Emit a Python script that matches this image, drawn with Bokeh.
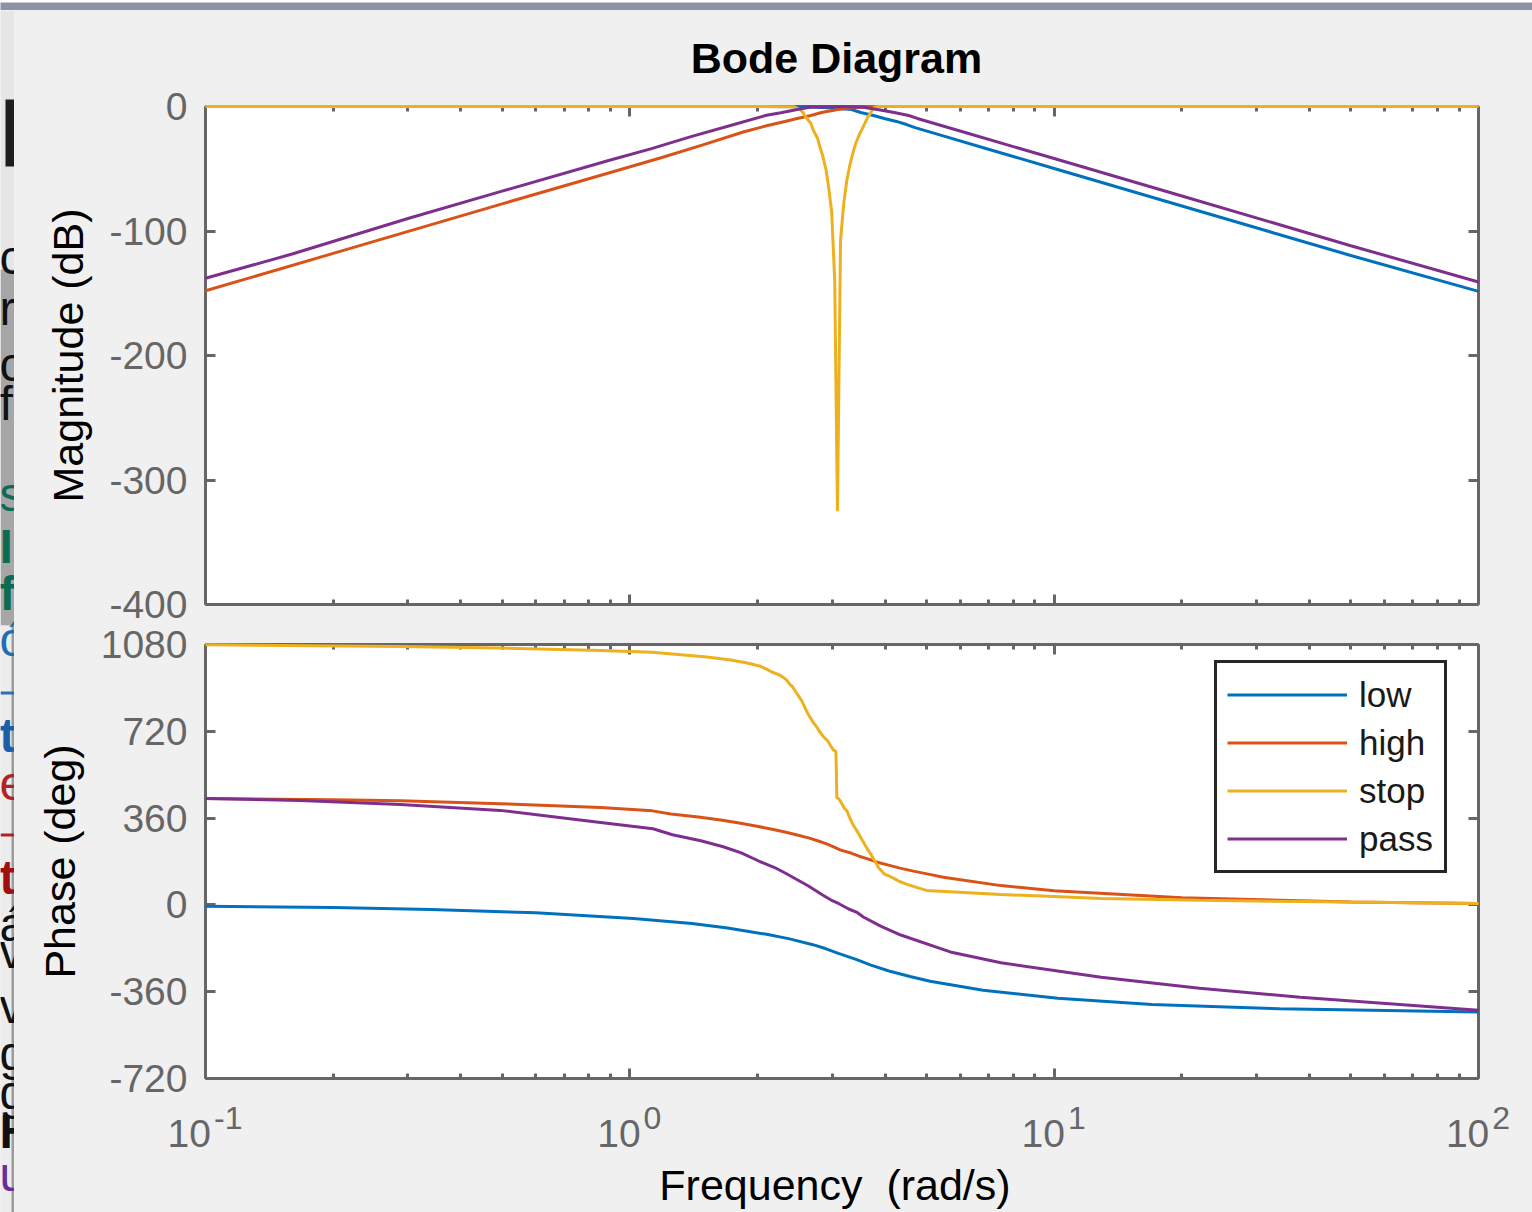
import math
from bokeh.plotting import figure
from bokeh.models import (Range1d, FixedTicker, LogAxis, LinearAxis, Legend, LegendItem,
                          CustomJSTickFormatter, Div)
from bokeh.layouts import column, row
from bokeh.embed import file_html
from bokeh.resources import INLINE
from bokeh.core.properties import value

# ---------------- data ----------------
series_names = ["low", "high", "stop", "pass"]

mag_low_w = [0.1, 1.0, 2.0, 2.6, 3.0, 3.33, 3.5, 3.75, 3.98, 4.25, 4.49, 4.7, 5.5, 7.0, 10.0, 20.0, 50.0, 100.0]
mag_low_db = [0, 0, 0, -0.3, -1.2, -2.4, -4.8, -7.2, -9.6, -12.0, -14.5, -17.0, -23.8, -34.3, -49.8, -79.9, -119.7, -148.5]

mag_high_w = [0.1, 0.2, 0.5, 0.9, 1.19, 1.48, 1.85, 2.1, 2.32, 2.48, 2.67, 2.83, 3.09, 3.4, 3.65, 4.0, 10.0, 100.0]
mag_high_db = [-148, -118, -78.2, -53, -41, -31, -20.5, -15.5, -12, -9.6, -7.2, -4.8, -2.4, -0.8, -0.2, 0, 0, 0]

mag_stop_w = [0.1, 1.0, 2.0, 2.44, 2.47, 2.52, 2.555, 2.58, 2.62, 2.67, 2.71, 2.77, 2.80, 2.85, 2.90, 2.94,
              2.99, 3.04, 3.085, 3.137, 3.194, 3.246, 3.30, 3.354, 3.408, 3.464, 3.521, 3.579, 3.638, 3.698,
              3.73, 3.77, 3.85, 10.0, 100.0]
mag_stop_db = [0, 0, 0, -0.2, -1, -2.5, -4.5, -7, -10, -13.5, -19.5, -25.5, -31.5, -40, -51, -64.5,
               -84.5, -140, -325, -108, -77, -59.5, -47, -37.5, -29.5, -23.5, -18.5, -13.5, -8.5, -5,
               -2.5, -0.5, 0, 0, 0]

mag_pass_w = [0.1, 0.16, 0.3, 0.5, 0.9, 1.12, 1.4, 1.76, 2.1, 2.27, 2.48, 2.65, 3.1, 3.55, 3.83, 4.2, 4.54,
              4.76, 6.0, 10.0, 20.0, 50.0, 100.0]
mag_pass_db = [-138, -118.5, -90, -68, -43, -34, -24, -14.5, -7, -5, -2.4, -0.6, 0, -0.6, -2.4, -4.8, -7.2,
               -9.6, -19.7, -41.8, -71.9, -111.8, -141]

ph_low_w = [0.1, 0.2, 0.34, 0.6, 1.02, 1.4, 1.7, 2.1, 2.38, 2.7, 2.89, 3.1, 3.4, 3.7, 4.08, 4.6, 5.1, 6.8,
            10.2, 17.0, 34.0, 100.0]
ph_low_deg = [-5.5, -11, -18.6, -33, -56, -77, -96, -122, -141, -165, -181, -201, -225, -250, -274, -298,
              -317, -354, -387, -413, -431, -444]

ph_high_w = [0.1, 0.2, 0.288, 0.495, 0.853, 1.13, 1.25, 1.45, 1.637, 1.81, 1.98, 2.15, 2.32, 2.48, 2.65,
             2.78, 2.92, 3.03, 3.14, 3.32, 3.47, 3.65, 3.83, 4.07, 4.33, 4.66, 5.05, 5.48, 7.49, 10.0, 20.0,
             50.0, 100.0]
ph_high_deg = [441, 436, 432, 420, 404, 390, 377, 364.5, 352, 339.6, 327, 315, 302, 290, 277, 265, 252,
               240, 227, 215, 202, 190, 177, 165, 152.5, 140, 127.6, 115, 80, 59, 29.5, 11.6, 5.8]

ph_stop_w = [0.1, 0.288, 0.495, 0.853, 1.13, 1.26, 1.52, 1.73, 1.89, 2.02, 2.10, 2.16, 2.25, 2.31, 2.35,
             2.38, 2.42, 2.46, 2.50, 2.54, 2.58, 2.62, 2.67, 2.71, 2.75, 2.79, 2.84, 2.88, 2.93, 2.97, 3.02,
             3.06, 3.075, 3.11, 3.16, 3.20, 3.25, 3.29, 3.34, 3.39, 3.44, 3.49, 3.54, 3.59, 3.64, 3.70,
             3.75, 3.81, 3.86, 3.92, 3.98, 4.06, 4.19, 4.32, 4.50, 4.74, 5.0, 7.49, 10.0, 12.9, 22.0,
             38.0, 100.0]
ph_stop_deg = [1079, 1072, 1065, 1055, 1048, 1040.6, 1028, 1016, 1003, 991, 978, 966, 954, 941, 929,
               916, 904, 884, 866, 847, 822, 797, 773, 754, 741, 723, 704, 692, 679, 661, 642,
               636, 445, 439, 420, 402, 389, 365, 340, 321, 303, 284, 265, 246, 228, 209,
               191, 172, 153, 141, 128, 122, 110, 97, 85, 72.5, 60, 43, 35, 27, 19,
               14, 6]

ph_pass_w = [0.1, 0.167, 0.288, 0.495, 0.853, 1.134, 1.26, 1.47, 1.66, 1.83, 2.03, 2.20, 2.34, 2.48, 2.63,
             2.84, 3.00, 3.11, 3.28, 3.44, 3.55, 3.90, 4.35, 5.69, 7.49, 12.9, 22.0, 38.0, 100.0]
ph_pass_deg = [441, 433, 416, 392, 342, 315.7, 290.8, 266, 241, 216, 179, 154, 129, 104.4, 79.5,
               42.3, 17.4, 5, -17, -32.3, -50, -88, -125, -195, -240, -300, -346, -383, -437]

x_major = [0.1, 1.0, 10.0, 100.0]
x_sup = ["-1", "0", "1", "2"]
x_minor = [m * d for d in (0.1, 1.0, 10.0) for m in range(2, 10)]
mag_ticks = [-400, -300, -200, -100, 0]
phase_ticks = [-720, -360, 0, 360, 720, 1080]

title_text = "Bode Diagram"
xlabel_text = "Frequency  (rad/s)"
ylabel_mag = "Magnitude (dB)"
ylabel_phase = "Phase (deg)"

# background window fragments at the left edge (cut-off text of another window)
frag_text = ["co", "r", "c", "f", "st", "I", "fo", "ó", "t", "e", "t", "áa", "v", "v", "gl", "gh", "H_", "uy"]
frag_y = [257, 308, 364, 403, 494, 546, 593, 639, 735, 783, 877, 924, 951, 1006, 1053, 1092, 1131, 1174]
frag_color = ["#111111", "#111111", "#111111", "#111111", "#0b6b55", "#0b6b55", "#0b6b55", "#1f6fb5",
              "#1a5fa8", "#b22222", "#a01010", "#111111", "#111111", "#111111", "#111111", "#111111",
              "#111111", "#6a2aa0"]
frag_style = ["normal", "normal", "normal", "normal", "normal", "bold", "bold", "normal", "bold", "normal",
              "bold", "normal", "normal", "normal", "normal", "normal", "bold", "normal"]

# ---------------- style / layout ----------------
FONT = "Liberation Sans"
AX = "#666666"
BG = "#f0f0f0"
COLORS = ["#0072bd", "#d95319", "#edb120", "#7e2f8e"]
TICK_PX = 39
LABEL_PX = 43
SUP_PX = 32
MAIN_W = 1518          # width of the main column (page x 14 .. 1532)
COL_X0 = 14
FRAME_L, FRAME_R = 205, 1478
DEC = (FRAME_R - FRAME_L) / 3.0
HIDE = CustomJSTickFormatter(code="return ''")


def style_axis(ax, ticker, show_labels, overrides=None):
    ax.ticker = ticker
    ax.axis_line_color = AX
    ax.axis_line_width = 3
    ax.major_tick_line_color = AX
    ax.major_tick_line_width = 3
    ax.major_tick_in = 10
    ax.major_tick_out = 0
    ax.minor_tick_line_color = AX
    ax.minor_tick_line_width = 3
    ax.minor_tick_in = 5
    ax.minor_tick_out = 0
    ax.major_label_text_font = FONT
    ax.major_label_text_color = AX
    ax.major_label_text_font_size = f"{TICK_PX}px"
    ax.major_label_standoff = 18
    if show_labels:
        if overrides:
            ax.major_label_overrides = overrides
    else:
        ax.formatter = HIDE
        ax.major_label_standoff = 0


def make_fig(h, yr, top, bottom, yticks, ylabel):
    p = figure(width=MAIN_W, height=h, x_axis_type="log", x_range=Range1d(0.1, 100), y_range=yr,
               output_backend="svg", toolbar_location=None,
               min_border_left=FRAME_L - COL_X0, min_border_right=COL_X0 + MAIN_W - FRAME_R,
               min_border_top=top, min_border_bottom=bottom)
    p.background_fill_color = "white"
    p.border_fill_color = BG
    p.outline_line_color = None
    p.grid.visible = False
    style_axis(p.xaxis[0], FixedTicker(ticks=x_major, minor_ticks=x_minor), False)
    style_axis(p.yaxis[0], FixedTicker(ticks=yticks, minor_ticks=[]), True,
               overrides={t: str(t) for t in yticks})
    yax = p.yaxis[0]
    yax.axis_label = ylabel
    yax.axis_label_text_font = FONT
    yax.axis_label_text_font_size = f"{LABEL_PX}px"
    yax.axis_label_text_font_style = "normal"
    yax.axis_label_text_color = "#000000"
    yax.axis_label_standoff = 14
    above = LogAxis()
    style_axis(above, FixedTicker(ticks=x_major, minor_ticks=x_minor), False)
    p.add_layout(above, "above")
    right = LinearAxis()
    style_axis(right, FixedTicker(ticks=yticks, minor_ticks=[]), False)
    p.add_layout(right, "right")
    return p


def span(text, left, top, size, color, weight="normal", lh=None, center=True, extra=""):
    lh = lh if lh is not None else size
    tr = "transform:translateX(-50%);" if center else ""
    return (f'<span style="position:absolute;left:{left:.1f}px;top:{top:.1f}px;{tr}'
            f"font-family:'{FONT}';font-size:{size}px;font-weight:{weight};line-height:{lh}px;"
            f'color:{color};white-space:pre;{extra}">{text}</span>')


ASC = 0.8465   # baseline position inside a line box of line-height 1em (Liberation Sans)

# ---------------- title strip (page y 10..86) ----------------
title_html = ('<div style="position:relative;width:%dpx;height:76px;">' % MAIN_W
              + span(title_text, 836.5 - COL_X0, (73 - 10) - ASC * LABEL_PX, LABEL_PX, "#000000", "bold")
              + "</div>")
head = Div(text=title_html, width=MAIN_W, height=76, margin=0, styles={"background-color": BG})

# ---------------- magnitude (page y 86..624) ----------------
p1 = make_fig(538, Range1d(-400, 0), 20, 20, mag_ticks, ylabel_mag)
for w, d, c in zip([mag_low_w, mag_high_w, mag_stop_w, mag_pass_w],
                   [mag_low_db, mag_high_db, mag_stop_db, mag_pass_db], COLORS):
    p1.line(w, d, line_color=c, line_width=3, level="overlay")

# ---------------- phase (page y 624..1096) ----------------
p2 = make_fig(472, Range1d(-720, 1080), 20, 18, phase_ticks, ylabel_phase)
renderers = []
for w, d, c in zip([ph_low_w, ph_high_w, ph_stop_w, ph_pass_w],
                   [ph_low_deg, ph_high_deg, ph_stop_deg, ph_pass_deg], COLORS):
    renderers.append(p2.line(w, d, line_color=c, line_width=3, level="overlay"))

legend = Legend(items=[LegendItem(label=n, renderers=[r]) for n, r in zip(series_names, renderers)],
                location=(1009, 205))
legend.label_text_font = FONT
legend.label_text_font_size = "35px"
legend.label_text_color = "#1a1a1a"
legend.border_line_color = "#262626"
legend.border_line_alpha = 1.0
legend.border_line_width = 3
legend.background_fill_color = "white"
legend.background_fill_alpha = 1.0
legend.padding = 10
legend.spacing = 5
legend.glyph_width = 120
legend.glyph_height = 43
legend.label_standoff = 12
legend.label_width = 75
legend.margin = 0
p2.add_layout(legend)

# ---------------- x tick labels 10^k and x label (page y 1096..1212) ----------------
foot_parts = []
for t, s in zip(x_major, x_sup):
    cx = FRAME_L - COL_X0 + DEC * (math.log10(t) + 1)
    sup = (f'<span style="font-size:{SUP_PX}px;line-height:0;vertical-align:18px;'
           f'margin-left:3px">{s}</span>')
    foot_parts.append(span("10" + sup, cx, 50.7 - ASC * TICK_PX, TICK_PX, AX))
foot_parts.append(span(xlabel_text, 835 - COL_X0, 104 - ASC * LABEL_PX, LABEL_PX, "#000000"))
foot_html = '<div style="position:relative;width:%dpx;height:116px;">' % MAIN_W + "".join(foot_parts) + "</div>"
foot = Div(text=foot_html, width=MAIN_W, height=116, margin=0, styles={"background-color": BG})

# ---------------- window decorations (top band + left strip) ----------------
band = figure(width=1532, height=10, x_range=Range1d(0, 1532), y_range=Range1d(0, 10),
              output_backend="svg", toolbar_location=None, x_axis_location=None, y_axis_location=None,
              min_border_left=0, min_border_right=0, min_border_top=0, min_border_bottom=0)
band.background_fill_color = "#8f92a3"
band.border_fill_color = "#8f92a3"
band.outline_line_color = None
band.grid.visible = False

strip = figure(width=14, height=1202, x_range=Range1d(0, 14), y_range=Range1d(1212, 10),
               output_backend="svg", toolbar_location=None, x_axis_location=None, y_axis_location=None,
               min_border_left=0, min_border_right=0, min_border_top=0, min_border_bottom=0)
strip.background_fill_color = "#e6e6e6"
strip.border_fill_color = "#e6e6e6"
strip.outline_line_color = None
strip.grid.visible = False
strip.quad(left=[0, 0, 5, 11, 0, 0], right=[14, 14, 14, 14, 14, 14],
           top=[269, 625, 99, 625, 691, 833], bottom=[625, 1212, 166, 1212, 694, 836],
           fill_color=["#a6a6a6", "#ececec", "#1e1e1e", "#9c9c9c", "#2a6ebd", "#b22222"], line_color=None)
strip.text(x=[-1] * len(frag_text), y=frag_y, text=frag_text, text_color=frag_color,
           text_font_style=frag_style, text_font_size="48px", text_baseline="alphabetic",
           text_align="left", text_font=value(FONT))

main_col = column(head, p1, p2, foot, spacing=0)
main_col.styles = {"background-color": BG}
layout = column(band, row(strip, main_col, spacing=0), spacing=0)

open("out.html", "w").write(file_html(layout, INLINE))
